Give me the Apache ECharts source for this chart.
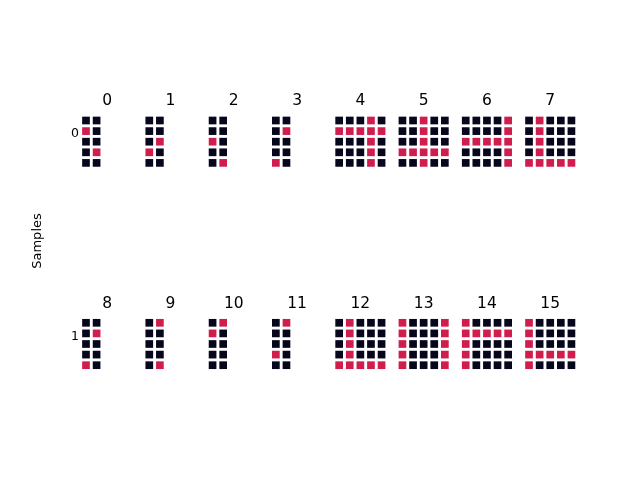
<!DOCTYPE html>
<html>
<head>
<meta charset="utf-8">
<script src="https://cdn.jsdelivr.net/npm/echarts@6/dist/echarts.min.js"></script>
<style>html,body{margin:0;padding:0;background:#fff}#c{width:640px;height:480px}</style>
</head>
<body>
<div id="c"></div>
<script>
// Panel titles
const panelLabels = ["0","1","2","3","4","5","6","7","8","9","10","11","12","13","14","15"];
// Sample row labels
const sampleLabels = ["0", "1"];
// Cell patterns, rows top to bottom, 1 = highlighted
const p0  = ["00","10","00","01","00"];
const p1  = ["00","00","01","10","00"];
const p2  = ["00","00","10","00","01"];
const p3  = ["00","01","00","00","10"];
const p4  = ["00010","11111","00010","00010","00010"];
const p5  = ["00100","00100","00100","11111","00100"];
const p6  = ["00001","00001","11111","00001","00001"];
const p7  = ["01000","01000","01000","01000","11111"];
const p8  = ["00","01","00","00","10"];
const p9  = ["01","00","00","00","01"];
const p10 = ["01","10","00","00","00"];
const p11 = ["01","00","00","10","00"];
const p12 = ["01000","01000","01000","01000","11111"];
const p13 = ["10001","10001","10001","10001","10001"];
const p14 = ["10000","11111","10000","10000","10000"];
const p15 = ["10000","10000","10000","11111","10000"];
const patterns = [p0,p1,p2,p3,p4,p5,p6,p7,p8,p9,p10,p11,p12,p13,p14,p15];

const DARK = "#06061c", RED = "#d01d4e";
const pitch = 10.6, boxW = 5 * pitch, boxH = 5 * pitch;
const left0 = 80.7, colStep = 63.29;
const tops = [115.2, 317.5];

const grids = [], xAxes = [], yAxes = [], series = [], graphics = [];
patterns.forEach((pat, i) => {
  const col = i % 8, row = Math.floor(i / 8);
  const left = left0 + col * colStep, top = tops[row];
  grids.push({left: left, top: top, width: boxW, height: boxH});
  xAxes.push({type: 'value', gridIndex: i, min: -0.5, max: 4.5, show: false});
  yAxes.push({type: 'value', gridIndex: i, min: -0.5, max: 4.5, inverse: true, show: false});
  const dark = [], red = [];
  pat.forEach((s, r) => {
    for (let c = 0; c < s.length; c++) {
      (s[c] === '1' ? red : dark).push([c, r]);
    }
  });
  series.push({type: 'scatter', xAxisIndex: i, yAxisIndex: i, symbol: 'rect', symbolSize: 7.7,
    data: dark, itemStyle: {color: DARK, opacity: 1}, silent: true, animation: false});
  series.push({type: 'scatter', xAxisIndex: i, yAxisIndex: i, symbol: 'rect', symbolSize: 7.7,
    data: red, itemStyle: {color: RED, opacity: 1}, silent: true, animation: false});
  graphics.push({type: 'text', x: left + boxW / 2, y: top - 14,
    style: {text: panelLabels[i], font: '15.5px "DejaVu Sans"', fill: '#000', align: 'center', verticalAlign: 'middle'}});
});
sampleLabels.forEach((t, r) => {
  graphics.push({type: 'text', x: 79, y: tops[r] + 19,
    style: {text: t, font: '12.5px "DejaVu Sans"', fill: '#000', align: 'right', verticalAlign: 'middle'}});
});
graphics.push({type: 'text', x: 38, y: 241, rotation: Math.PI / 2,
  style: {text: 'Samples', font: '13px "DejaVu Sans"', fill: '#000', align: 'center', verticalAlign: 'middle'}});

const chart = echarts.init(document.getElementById('c'), null, {renderer: 'canvas'});
chart.setOption({
  animation: false,
  grid: grids, xAxis: xAxes, yAxis: yAxes, series: series,
  graphic: graphics
});
</script>
</body>
</html>
